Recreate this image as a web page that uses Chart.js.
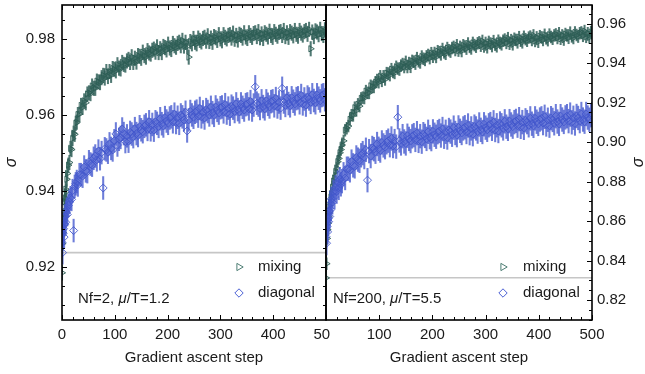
<!DOCTYPE html>
<html>
<head>
<meta charset="utf-8">
<title>sigma vs gradient ascent step</title>
<script src="https://cdn.jsdelivr.net/npm/chart.js"></script>
<style>
    html, body { margin: 0; padding: 0; background: #fff; overflow: hidden; }
    #wrap { position: relative; width: 645px; height: 374px; }
    #leftBox { position: absolute; left: 0; top: 0; width: 330px; height: 374px; overflow: hidden; }
    #leftChart { position: absolute; left: 0; top: 0; }
    #rightChart { position: absolute; left: 316px; top: 0; }
</style>
</head>
<body>
<div id="wrap">
    <div id="leftBox"><canvas id="leftChart" width="345" height="374"></canvas></div>
    <canvas id="rightChart" width="340" height="374"></canvas>
</div>
<script>
// gradient ascent steps (shared by all four series)
var steps = [0,1,2,3,4,5,6,7,8,9,10,12,14,16,18,20,22,24,26,28,
    30,33,36,39,42,45,48,51,54,57,60,63,66,69,72,75,78,81,84,87,
    90,93,96,99,102,105,108,111,114,117,120,123,126,129,132,135,138,141,144,147,
    150,153,156,159,162,165,168,171,174,177,180,183,186,189,192,195,198,201,204,207,
    210,213,216,219,222,225,228,231,234,237,240,243,246,249,252,255,258,261,264,267,
    270,273,276,279,282,285,288,291,294,297,300,303,306,309,312,315,318,321,324,327,
    330,333,336,339,342,345,348,351,354,357,360,363,366,369,372,375,378,381,384,387,
    390,393,396,399,402,405,408,411,414,417,420,423,426,429,432,435,438,441,444,447,
    450,453,456,459,462,465,468,471,474,477,480,483,486,489,492,495,498,500];

// Nf=2, mu/T=1.2
var mixingLeft = [0.9185,0.9262,0.9291,0.9318,0.9335,0.9372,0.9381,0.9405,0.9398,0.9431,0.9446,
    0.9468,0.9475,0.9512,0.9509,0.9538,0.9552,0.9549,0.9578,0.9581,
    0.9601,0.9602,0.9625,0.9620,0.9637,0.9632,0.9655,0.9658,0.9656,0.9676,
    0.9670,0.9670,0.9689,0.9687,0.9685,0.9698,0.9704,0.9697,0.9714,0.9701,
    0.9714,0.9704,0.9722,0.9720,0.9716,0.9732,0.9723,0.9721,0.9738,0.9733,
    0.9731,0.9742,0.9746,0.9738,0.9753,0.9738,0.9749,0.9739,0.9756,0.9754,
    0.9749,0.9765,0.9756,0.9752,0.9769,0.9763,0.9760,0.9770,0.9773,0.9765,
    0.9779,0.9764,0.9774,0.9764,0.9780,0.9777,0.9771,0.9786,0.9776,0.9772,
    0.9788,0.9782,0.9778,0.9788,0.9791,0.9782,0.9796,0.9781,0.9791,0.9780,
    0.9752,0.9793,0.9787,0.9801,0.9791,0.9787,0.9802,0.9796,0.9792,0.9801,
    0.9804,0.9794,0.9808,0.9793,0.9802,0.9791,0.9806,0.9803,0.9796,0.9811,
    0.9800,0.9795,0.9811,0.9804,0.9800,0.9809,0.9811,0.9802,0.9815,0.9799,
    0.9809,0.9797,0.9812,0.9809,0.9802,0.9816,0.9805,0.9801,0.9816,0.9809,
    0.9804,0.9814,0.9816,0.9806,0.9819,0.9803,0.9813,0.9801,0.9816,0.9812,
    0.9805,0.9820,0.9809,0.9804,0.9819,0.9812,0.9807,0.9817,0.9819,0.9809,
    0.9822,0.9806,0.9816,0.9804,0.9819,0.9815,0.9808,0.9822,0.9812,0.9807,
    0.9822,0.9815,0.9810,0.9819,0.9822,0.9812,0.9825,0.9774,0.9818,0.9806,
    0.9821,0.9818,0.9811,0.9825,0.9814,0.9809,0.9824,0.9817];
var diagonalLeft = [0.9265,0.9238,0.9288,0.9301,0.9279,0.9312,0.9335,0.9318,0.9344,0.9351,0.9338,
    0.9362,0.9371,0.9382,0.9378,0.9401,0.9296,0.9412,0.9419,0.9425,
    0.9416,0.9443,0.9443,0.9439,0.9463,0.9453,0.9451,0.9477,0.9471,0.9468,
    0.9486,0.9492,0.9482,0.9505,0.9485,0.9501,0.9408,0.9511,0.9508,0.9502,
    0.9524,0.9512,0.9508,0.9532,0.9550,0.9521,0.9536,0.9541,0.9563,0.9551,
    0.9530,0.9545,0.9531,0.9554,0.9550,0.9543,0.9564,0.9551,0.9546,0.9569,
    0.9561,0.9556,0.9570,0.9574,0.9562,0.9582,0.9561,0.9575,0.9560,0.9582,
    0.9578,0.9570,0.9590,0.9577,0.9571,0.9593,0.9584,0.9578,0.9592,0.9595,
    0.9582,0.9602,0.9580,0.9594,0.9578,0.9600,0.9595,0.9587,0.9607,0.9558,
    0.9587,0.9609,0.9600,0.9594,0.9607,0.9610,0.9597,0.9617,0.9595,0.9608,
    0.9592,0.9614,0.9609,0.9600,0.9620,0.9606,0.9599,0.9621,0.9612,0.9605,
    0.9619,0.9621,0.9608,0.9627,0.9605,0.9618,0.9602,0.9623,0.9618,0.9609,
    0.9629,0.9614,0.9608,0.9629,0.9620,0.9613,0.9627,0.9629,0.9616,0.9635,
    0.9613,0.9626,0.9674,0.9631,0.9626,0.9617,0.9637,0.9622,0.9616,0.9637,
    0.9628,0.9621,0.9635,0.9637,0.9624,0.9643,0.9621,0.9634,0.9618,0.9670,
    0.9634,0.9625,0.9645,0.9630,0.9624,0.9645,0.9636,0.9629,0.9643,0.9645,
    0.9632,0.9651,0.9629,0.9642,0.9626,0.9647,0.9642,0.9633,0.9653,0.9638,
    0.9632,0.9653,0.9644,0.9637,0.9651,0.9653,0.9640,0.9659];

// Nf=200, mu/T=5.5
var mixingRight = [0.8312,0.8384,0.8512,0.8556,0.8589,0.8623,0.8641,0.8678,0.8695,0.8722,0.8738,
    0.8771,0.8802,0.8818,0.8851,0.8869,0.8901,0.8917,0.8946,0.8962,
    0.8985,0.9006,0.9060,0.9070,0.9081,0.9115,0.9136,0.9135,0.9174,0.9160,
    0.9191,0.9182,0.9221,0.9225,0.9223,0.9258,0.9249,0.9249,0.9285,0.9280,
    0.9279,0.9303,0.9314,0.9303,0.9333,0.9310,0.9333,0.9317,0.9349,0.9347,
    0.9339,0.9369,0.9355,0.9350,0.9381,0.9372,0.9367,0.9387,0.9395,0.9380,
    0.9406,0.9380,0.9400,0.9381,0.9411,0.9407,0.9397,0.9425,0.9409,0.9403,
    0.9433,0.9422,0.9416,0.9434,0.9441,0.9425,0.9450,0.9432,0.9451,0.9431,
    0.9460,0.9455,0.9444,0.9471,0.9454,0.9447,0.9476,0.9465,0.9458,0.9476,
    0.9482,0.9466,0.9490,0.9463,0.9482,0.9461,0.9490,0.9484,0.9473,0.9499,
    0.9482,0.9474,0.9502,0.9491,0.9483,0.9500,0.9505,0.9488,0.9512,0.9484,
    0.9502,0.9480,0.9507,0.9499,0.9486,0.9511,0.9493,0.9485,0.9513,0.9502,
    0.9495,0.9513,0.9519,0.9502,0.9526,0.9498,0.9516,0.9495,0.9523,0.9517,
    0.9505,0.9531,0.9513,0.9505,0.9533,0.9521,0.9513,0.9529,0.9534,0.9517,
    0.9540,0.9512,0.9530,0.9508,0.9536,0.9530,0.9517,0.9543,0.9525,0.9516,
    0.9544,0.9532,0.9523,0.9540,0.9545,0.9527,0.9551,0.9523,0.9540,0.9519,
    0.9547,0.9540,0.9528,0.9554,0.9535,0.9527,0.9555,0.9542,0.9534,0.9551,
    0.9555,0.9538,0.9562,0.9533,0.9551,0.9530,0.9557,0.9551];
var diagonalRight = [0.8521,0.8488,0.8573,0.8545,0.8612,0.8597,0.8651,0.8623,0.8689,0.8658,0.8712,
    0.8695,0.8748,0.8722,0.8771,0.8749,0.8795,0.8768,0.8812,0.8786,
    0.8802,0.8837,0.8818,0.8865,0.8865,0.8857,0.8901,0.8882,0.8877,0.8922,
    0.8911,0.8905,0.8933,0.8944,0.8924,0.8961,0.8807,0.8954,0.8929,0.8970,
    0.8964,0.8951,0.8990,0.8966,0.8957,0.8998,0.8983,0.8974,0.8999,0.9007,
    0.8984,0.9018,0.8980,0.9005,0.8977,0.9126,0.9008,0.8993,0.9030,0.9003,
    0.8993,0.9032,0.9016,0.9005,0.9029,0.9035,0.9011,0.9045,0.9006,0.9030,
    0.9002,0.9040,0.9031,0.9016,0.9052,0.9025,0.9015,0.9054,0.9037,0.9027,
    0.9050,0.9056,0.9033,0.9066,0.9027,0.9052,0.9023,0.9061,0.9053,0.9037,
    0.9073,0.9046,0.9035,0.9074,0.9057,0.9046,0.9069,0.9075,0.9051,0.9084,
    0.9045,0.9069,0.9040,0.9078,0.9069,0.9053,0.9089,0.9062,0.9051,0.9090,
    0.9073,0.9062,0.9085,0.9091,0.9067,0.9100,0.9061,0.9085,0.9056,0.9094,
    0.9085,0.9069,0.9105,0.9078,0.9067,0.9106,0.9089,0.9078,0.9101,0.9107,
    0.9083,0.9116,0.9077,0.9101,0.9072,0.9110,0.9101,0.9085,0.9120,0.9093,
    0.9082,0.9120,0.9103,0.9092,0.9114,0.9120,0.9096,0.9128,0.9089,0.9113,
    0.9083,0.9121,0.9112,0.9095,0.9131,0.9104,0.9092,0.9131,0.9114,0.9102,
    0.9125,0.9131,0.9106,0.9139,0.9100,0.9123,0.9094,0.9132,0.9122,0.9106,
    0.9142,0.9114,0.9103,0.9142,0.9124,0.9113,0.9136,0.9141];

// error bar half widths
var errMixingLeft = 0.0019;
var errDiagonalLeft = 0.0030;
var errMixingRight = 0.0030;
var errDiagonalRight = 0.0060;

// grey reference lines
var refLeft = 0.9238;
var refRight = 0.8313;

var seriesNames = ['mixing', 'diagonal'];
var panelLabels = [['Nf=2, ', '\u03bc', '/T=1.2'], ['Nf=200, ', '\u03bc', '/T=5.5']];

var mixColor = 'rgba(46, 94, 86, 0.92)';
var mixBarColor = 'rgba(50, 98, 90, 0.85)';
var diagColor = 'rgba(66, 86, 204, 0.88)';
var diagBarColor = 'rgba(72, 92, 208, 0.8)';
var FONT = "'Liberation Sans', Arial, sans-serif";

function points(vals) {
    return steps.map(function(s, i) { return {x: s, y: vals[i]}; });
}
function errorBars(vals, e) {
    return steps.map(function(s, i) { return {x: s, y: [vals[i] - e, vals[i] + e]}; });
}

// frame plus inward ticks on the plot edges
var frameTicks = {
    id: 'frameTicks',
    afterDatasetsDraw: function(chart, args, opts) {
        var ctx = chart.ctx, a = chart.chartArea, x = chart.scales.x, y = chart.scales.y;
        ctx.save();
        ctx.strokeStyle = '#000';
        ctx.lineWidth = 1;
        ctx.beginPath();
        var v, px, len, k;
        for (k = 0; k * opts.xMinor <= x.max + 1e-9; k++) {
            v = k * opts.xMinor;
            px = Math.round(x.getPixelForValue(v)) + 0.5;
            len = (k % opts.xEvery === 0) ? 5 : 3;
            ctx.moveTo(px, a.bottom); ctx.lineTo(px, a.bottom - len);
            ctx.moveTo(px, a.top); ctx.lineTo(px, a.top + len);
        }
        var k0 = Math.ceil(y.min / opts.yMinor - 1e-6), k1 = Math.floor(y.max / opts.yMinor + 1e-6);
        for (k = k0; k <= k1; k++) {
            v = k * opts.yMinor;
            px = Math.round(y.getPixelForValue(v)) + 0.5;
            len = (k % opts.yEvery === 0) ? 5 : 3;
            if (opts.leftTicks) { ctx.moveTo(a.left, px); ctx.lineTo(a.left + len, px); }
            ctx.moveTo(a.right, px); ctx.lineTo(a.right - len, px);
        }
        ctx.stroke();
        ctx.lineWidth = 1.6;
        ctx.strokeRect(a.left, a.top, a.right - a.left, a.bottom - a.top);
        ctx.restore();
    }
};

// legend, panel label and (right panel) the sigma title
var panelText = {
    id: 'panelText',
    afterDraw: function(chart, args, opts) {
        var ctx = chart.ctx, a = chart.chartArea;
        ctx.save();
        ctx.font = '15px ' + FONT;
        ctx.textBaseline = 'middle';
        var mx = a.right - opts.markerDx, tx = a.right - opts.textDx;
        var rows = [{style: 'triangle', rot: 90, color: '#4d7d73', y: a.bottom - 53},
                    {style: 'rectRot', rot: 0, color: '#4b60d4', y: a.bottom - 27}];
        rows.forEach(function(r, i) {
            ctx.strokeStyle = r.color;
            ctx.fillStyle = 'rgba(0,0,0,0)';
            ctx.lineWidth = 1;
            Chart.helpers.drawPoint(ctx, {pointStyle: r.style, rotation: r.rot, radius: 4.2, borderWidth: 1}, mx, r.y);
            ctx.fillStyle = '#1a1a1a';
            ctx.fillText(seriesNames[i], tx, r.y);
        });
        var parts = opts.label, lx = a.left + opts.labelDx, ly = a.bottom - 21;
        parts.forEach(function(p, i) {
            ctx.font = (i === 1 ? 'italic ' : '') + '15px ' + FONT;
            ctx.fillText(p, lx, ly);
            lx += ctx.measureText(p).width;
        });
        if (opts.sigmaDx) {
            ctx.translate(a.right + opts.sigmaDx, (a.top + a.bottom) / 2);
            ctx.rotate(-Math.PI / 2);
            ctx.textAlign = 'center';
            ctx.font = 'italic 16px ' + FONT;
            ctx.fillText('\u03c3', 0, 0);
        }
        ctx.restore();
    }
};

function makeDatasets(mix, diag, errMix, errDiag, ref) {
    return [
        {type: 'line', data: [{x: 0, y: ref}, {x: 500, y: ref}], borderColor: '#c6c6c6',
         borderWidth: 1.6, pointRadius: 0, order: 10},
        {type: 'bar', data: errorBars(mix, errMix), backgroundColor: mixBarColor,
         barThickness: 1.4, grouped: false, borderWidth: 0, order: 6},
        {type: 'scatter', data: points(mix), pointStyle: 'triangle', pointRotation: 90,
         pointRadius: 3.6, borderWidth: 1, borderColor: mixColor,
         backgroundColor: 'rgba(0,0,0,0)', order: 5},
        {type: 'bar', data: errorBars(diag, errDiag), backgroundColor: diagBarColor,
         barThickness: 1.4, grouped: false, borderWidth: 0, order: 4},
        {type: 'scatter', data: points(diag), pointStyle: 'rectRot',
         pointRadius: 4, borderWidth: 1, borderColor: diagColor,
         backgroundColor: 'rgba(0,0,0,0)', order: 3}
    ];
}

function makeChart(id, cfg) {
    var ctx = document.getElementById(id).getContext('2d');
    return new Chart(ctx, {
        type: 'scatter',
        data: {datasets: makeDatasets(cfg.mix, cfg.diag, cfg.errMix, cfg.errDiag, cfg.ref)},
        options: {
            responsive: false,
            animation: false,
            events: [],
            layout: {padding: cfg.padding},
            plugins: {
                legend: {display: false},
                tooltip: {enabled: false},
                frameTicks: {xMinor: 20, xEvery: 5, yMinor: 0.005, yEvery: 4, leftTicks: cfg.leftTicks},
                panelText: {markerDx: cfg.markerDx, textDx: cfg.textDx, labelDx: cfg.labelDx,
                    label: cfg.label, sigmaDx: cfg.sigmaDx}
            },
            scales: {
                x: {
                    type: 'linear', min: 0, max: 500, offset: false,
                    grid: {display: false, drawTicks: false}, border: {display: false},
                    ticks: {stepSize: 100, padding: 6, color: '#1a1a1a', font: {family: FONT, size: 15},
                        maxRotation: 0,
                        callback: function(v) { return (cfg.hideZero && v === 0) ? '' : String(v); }},
                    title: {display: true, text: 'Gradient ascent step', color: '#1a1a1a',
                        font: {family: FONT, size: 15}, padding: {top: 0, bottom: 7}},
                    afterFit: function(s) {
                        s.height = 54;
                        s.paddingLeft = 0; s.paddingRight = 0;
                    }
                },
                y: {
                    type: 'linear', position: cfg.yPos, min: cfg.yMin, max: cfg.yMax,
                    grid: {display: false, drawTicks: false}, border: {display: false},
                    ticks: {stepSize: 0.02, includeBounds: false, padding: cfg.yPad, color: '#1a1a1a',
                        font: {family: FONT, size: 15},
                        callback: function(v) { return v.toFixed(2); }},
                    title: {display: cfg.yTitle, text: '\u03c3', color: '#1a1a1a',
                        font: {family: FONT, size: 16, style: 'italic'}, padding: {top: 2, bottom: 0}},
                    afterFit: function(s) {
                        s.width = cfg.yWidth;
                        s.paddingTop = 0; s.paddingBottom = 0;
                    }
                }
            }
        },
        plugins: [frameTicks, panelText]
    });
}

makeChart('leftChart', {
    mix: mixingLeft, diag: diagonalLeft, errMix: errMixingLeft, errDiag: errDiagonalLeft, ref: refLeft,
    padding: {top: 4, right: 19, left: 0, bottom: 0},
    yPos: 'left', yMin: 0.9061, yMax: 0.9889, yPad: 7, yWidth: 62, yTitle: true,
    leftTicks: true, hideZero: false,
    markerDx: 87, textDx: 68, labelDx: 16, label: panelLabels[0], sigmaDx: 0
});

makeChart('rightChart', {
    mix: mixingRight, diag: diagonalRight, errMix: errMixingRight, errDiag: errDiagonalRight, ref: refRight,
    padding: {top: 4, right: 0, left: 10, bottom: 0},
    yPos: 'right', yMin: 0.8099, yMax: 0.9694, yPad: 5, yWidth: 64, yTitle: false,
    leftTicks: false, hideZero: true,
    markerDx: 89, textDx: 69, labelDx: 7, label: panelLabels[1], sigmaDx: 46.5
});
</script>
</body>
</html>
